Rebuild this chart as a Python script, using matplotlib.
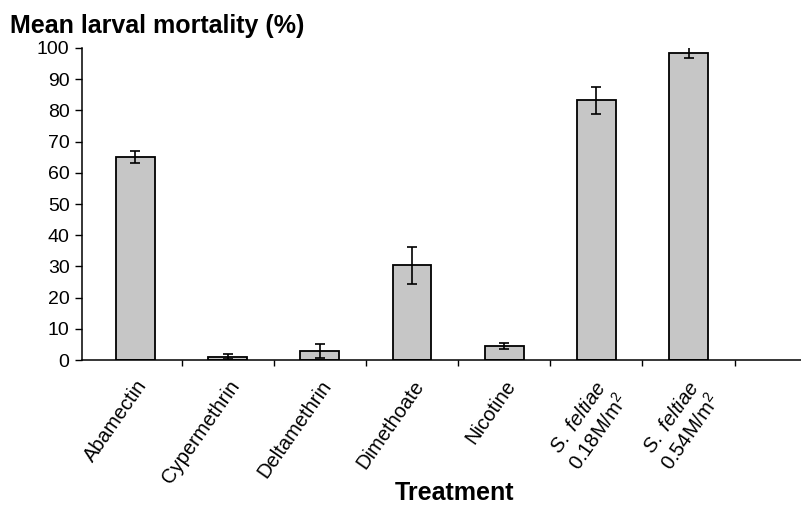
import matplotlib
matplotlib.use("Agg")
import matplotlib.pyplot as plt
import numpy as np

plt.rcParams['font.family'] = ['Liberation Sans', 'DejaVu Sans']
plt.rcParams['mathtext.fontset'] = 'custom'
plt.rcParams['mathtext.rm'] = 'Liberation Sans'
plt.rcParams['mathtext.it'] = 'Liberation Sans:italic'

# data
treatments = ['Abamectin', 'Cypermethrin', 'Deltamethrin', 'Dimethoate', 'Nicotine',
              '$\\it{S.\\ feltiae}$\n0.18M/m$^2$', '$\\it{S.\\ feltiae}$\n0.54M/m$^2$']
mortality = [65, 1, 3, 30.4, 4.5, 83.2, 98.5]
sem = [2, 0.8, 2.3, 5.9, 1.0, 4.3, 1.8]

fig = plt.figure(figsize=(8.01, 5.05), dpi=100)
ax = fig.add_axes([0.1024, 0.287, 0.8976, 0.618])

x = np.arange(len(treatments))
ax.bar(x, mortality, width=0.42, color='#c6c6c6', edgecolor='black', linewidth=1.3, zorder=2)
ax.errorbar(x, mortality, yerr=sem, fmt='none', ecolor='black', elinewidth=1.2,
            capsize=3.5, capthick=1.2, zorder=3)

ax.set_xlim(-0.58, 7.22)
ax.set_ylim(0, 100)
ax.set_yticks(np.arange(0, 101, 10))
ax.tick_params(axis='y', labelsize=14, length=5, width=1, direction='out', pad=4)

ax.set_xticks(x)
ax.set_xticks(x + 0.5, minor=True)
ax.tick_params(axis='x', which='major', length=0, pad=12)
ax.tick_params(axis='x', which='minor', length=4, width=1, direction='out')
ax.set_xticklabels(treatments, rotation=55, ha='right', va='top',
                   rotation_mode='anchor', fontsize=14.5, multialignment='center')

ax.spines['top'].set_visible(False)
ax.spines['right'].set_visible(False)
ax.spines['left'].set_linewidth(1.1)
ax.spines['bottom'].set_linewidth(1.1)

fig.text(0.012, 0.948, 'Mean larval mortality (%)', fontsize=18, fontweight='bold',
         ha='left', va='center')
fig.text(0.568, 0.024, 'Treatment', fontsize=18, fontweight='bold', ha='center', va='center')

fig.savefig('out.png', dpi=100)
